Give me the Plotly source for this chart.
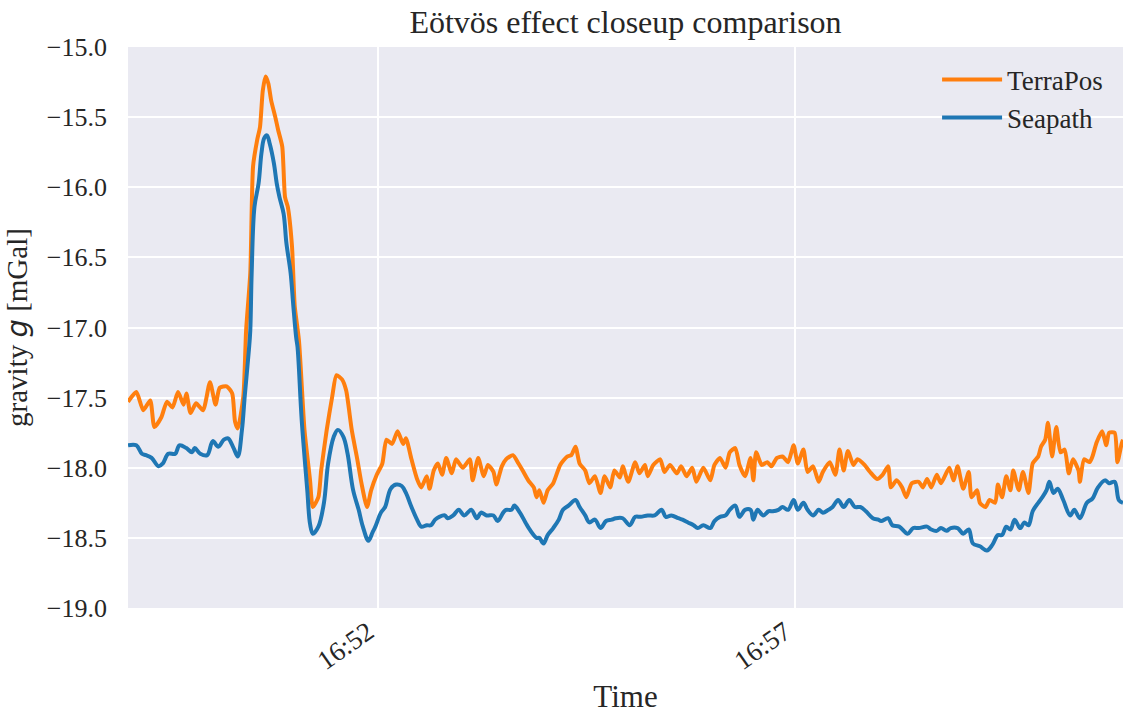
import pandas as pd
import plotly.graph_objects as go

start_time = "2000-01-01 16:49:00"
x_end_sec = 716

terrapos_sec = [0, 6, 11, 16, 19, 24, 28, 32, 36, 40, 42, 45, 49, 54, 59, 63, 66, 71, 75, 77, 79, 83, 85, 88, 90, 93, 95, 97, 99, 101, 103, 106, 108, 111, 113, 115, 118, 120, 123, 127, 131, 133, 137, 139, 143, 147, 150, 154, 157, 161, 165, 168, 172, 175, 179, 183, 186, 190, 194, 198, 200, 204, 208, 211, 215, 217, 220, 223, 226, 229, 233, 236, 241, 246, 248, 252, 256, 259, 263, 265, 269, 272, 277, 281, 284, 288, 292, 294, 296, 299, 302, 306, 311, 316, 319, 322, 325, 329, 332, 336, 340, 343, 347, 350, 354, 356, 360, 365, 368, 372, 374, 378, 383, 386, 390, 395, 398, 402, 406, 409, 414, 419, 422, 426, 430, 433, 437, 440, 444, 448, 450, 452, 456, 460, 463, 467, 471, 475, 479, 482, 486, 489, 493, 497, 500, 505, 509, 512, 515, 518, 522, 525, 530, 534, 539, 543, 547, 549, 553, 557, 560, 564, 569, 572, 575, 578, 582, 585, 591, 594, 597, 601, 605, 607, 611, 613, 617, 620, 624, 626, 629, 632, 635, 637, 641, 644, 648, 651, 655, 657, 660, 662, 665, 668, 671, 674, 677, 680, 684, 685, 688, 692, 694, 697, 701, 704, 706, 710, 712, 715, 716]
terrapos_val = [-17.53, -17.46, -17.59, -17.52, -17.71, -17.64, -17.53, -17.57, -17.46, -17.55, -17.47, -17.61, -17.54, -17.59, -17.39, -17.55, -17.43, -17.42, -17.47, -17.67, -17.72, -17.49, -17.02, -16.61, -15.85, -15.66, -15.57, -15.31, -15.21, -15.26, -15.38, -15.50, -15.59, -15.71, -16.07, -16.14, -16.42, -16.85, -17.09, -17.73, -18.09, -18.28, -18.21, -18.02, -17.73, -17.49, -17.34, -17.37, -17.45, -17.73, -17.94, -18.11, -18.28, -18.16, -18.05, -17.97, -17.80, -17.83, -17.74, -17.83, -17.79, -17.94, -18.08, -18.14, -18.06, -18.15, -18.02, -17.97, -18.05, -17.93, -18.04, -17.94, -18.00, -17.94, -18.09, -17.93, -18.06, -17.98, -18.03, -18.12, -17.99, -17.94, -17.91, -17.97, -18.02, -18.09, -18.14, -18.21, -18.16, -18.25, -18.16, -18.11, -17.98, -17.92, -17.91, -17.85, -17.97, -18.02, -18.11, -18.06, -18.18, -18.06, -18.14, -18.02, -18.07, -17.99, -18.10, -17.96, -18.04, -17.98, -18.06, -17.98, -17.94, -18.03, -17.98, -18.04, -17.99, -18.06, -18.00, -18.10, -18.00, -18.09, -17.98, -17.93, -18.00, -17.89, -17.86, -17.98, -18.06, -17.93, -18.09, -17.89, -17.98, -17.96, -17.99, -17.93, -17.92, -17.96, -17.84, -17.97, -17.87, -18.03, -17.99, -18.10, -18.03, -17.96, -18.05, -17.87, -18.02, -17.88, -17.98, -17.94, -17.98, -18.03, -18.08, -18.05, -17.99, -18.14, -18.09, -18.14, -18.21, -18.11, -18.10, -18.14, -18.08, -18.14, -18.05, -18.11, -18.00, -18.09, -17.99, -18.15, -18.03, -18.21, -18.16, -18.25, -18.28, -18.23, -18.25, -18.12, -18.21, -18.06, -18.16, -18.02, -18.16, -18.03, -18.18, -17.97, -17.92, -17.85, -17.80, -17.68, -17.92, -17.71, -17.89, -17.87, -18.04, -17.94, -18.02, -18.10, -17.94, -17.96, -17.92, -17.82, -17.74, -17.84, -17.75, -17.75, -17.96, -17.83, -17.80]

seapath_sec = [0, 6, 10, 13, 17, 22, 25, 29, 34, 37, 42, 46, 48, 52, 57, 61, 65, 69, 72, 76, 79, 82, 84, 87, 88, 89, 91, 94, 96, 98, 100, 102, 105, 107, 109, 112, 114, 117, 119, 121, 122, 125, 129, 131, 133, 137, 141, 144, 148, 151, 155, 158, 162, 166, 169, 173, 176, 178, 182, 185, 189, 193, 197, 200, 204, 208, 211, 215, 218, 221, 224, 228, 230, 234, 238, 242, 247, 251, 254, 258, 263, 266, 270, 272, 276, 278, 282, 286, 289, 294, 296, 299, 302, 306, 310, 313, 317, 322, 325, 329, 332, 336, 340, 344, 348, 351, 356, 361, 365, 369, 374, 379, 384, 387, 391, 396, 399, 403, 407, 410, 414, 419, 422, 426, 430, 433, 437, 440, 444, 448, 450, 453, 457, 461, 464, 468, 471, 475, 479, 482, 486, 489, 493, 497, 500, 504, 507, 511, 515, 519, 523, 527, 531, 536, 540, 542, 547, 550, 555, 561, 565, 569, 575, 578, 582, 585, 589, 592, 597, 601, 605, 608, 613, 618, 622, 626, 629, 632, 635, 638, 642, 645, 648, 651, 655, 658, 661, 663, 666, 669, 673, 678, 681, 685, 690, 694, 698, 703, 706, 710, 713, 716]
seapath_val = [-17.84, -17.84, -17.90, -17.91, -17.93, -17.99, -17.97, -17.90, -17.90, -17.84, -17.86, -17.89, -17.86, -17.90, -17.91, -17.81, -17.85, -17.80, -17.79, -17.86, -17.92, -17.73, -17.49, -17.16, -17.02, -16.61, -16.14, -15.97, -15.76, -15.65, -15.63, -15.69, -15.83, -15.97, -16.07, -16.19, -16.40, -16.61, -16.85, -17.07, -17.14, -17.66, -18.16, -18.40, -18.47, -18.42, -18.25, -17.97, -17.78, -17.73, -17.78, -17.90, -18.16, -18.30, -18.42, -18.52, -18.46, -18.42, -18.32, -18.28, -18.15, -18.12, -18.13, -18.18, -18.28, -18.37, -18.42, -18.41, -18.41, -18.37, -18.35, -18.34, -18.36, -18.34, -18.30, -18.34, -18.30, -18.36, -18.32, -18.34, -18.34, -18.38, -18.32, -18.30, -18.30, -18.27, -18.32, -18.39, -18.44, -18.50, -18.50, -18.54, -18.48, -18.43, -18.37, -18.30, -18.27, -18.23, -18.28, -18.34, -18.39, -18.37, -18.43, -18.38, -18.37, -18.36, -18.36, -18.41, -18.35, -18.35, -18.34, -18.34, -18.30, -18.35, -18.34, -18.36, -18.37, -18.39, -18.41, -18.43, -18.41, -18.43, -18.38, -18.35, -18.34, -18.30, -18.27, -18.35, -18.30, -18.30, -18.37, -18.30, -18.34, -18.31, -18.31, -18.30, -18.28, -18.30, -18.23, -18.30, -18.25, -18.30, -18.34, -18.30, -18.32, -18.30, -18.28, -18.23, -18.28, -18.23, -18.28, -18.28, -18.31, -18.36, -18.37, -18.38, -18.36, -18.41, -18.42, -18.47, -18.43, -18.43, -18.42, -18.44, -18.45, -18.43, -18.45, -18.43, -18.43, -18.47, -18.44, -18.54, -18.56, -18.59, -18.55, -18.48, -18.48, -18.42, -18.44, -18.37, -18.43, -18.39, -18.41, -18.31, -18.25, -18.21, -18.16, -18.10, -18.18, -18.15, -18.23, -18.34, -18.30, -18.36, -18.25, -18.22, -18.14, -18.09, -18.11, -18.10, -18.23, -18.25]

x_tick_times = ["2000-01-01 16:52:00", "2000-01-01 16:57:00"]
x_tick_labels = ["16:52", "16:57"]
y_ticks = [-19.0, -18.5, -18.0, -17.5, -17.0, -16.5, -16.0, -15.5, -15.0]

t0 = pd.Timestamp(start_time)
t_terrapos = t0 + pd.to_timedelta(terrapos_sec, unit="s")
t_seapath = t0 + pd.to_timedelta(seapath_sec, unit="s")
t_end = t0 + pd.to_timedelta(x_end_sec, unit="s")

FONT = "Liberation Serif, Times New Roman, serif"

fig = go.Figure()
fig.add_trace(go.Scatter(x=t_terrapos, y=terrapos_val, mode="lines", name="TerraPos",
                         line=dict(color="#ff7f0e", width=4, shape="spline", smoothing=0.6)))
fig.add_trace(go.Scatter(x=t_seapath, y=seapath_val, mode="lines", name="Seapath",
                         line=dict(color="#1f77b4", width=4, shape="spline", smoothing=1.0)))

fig.update_layout(
    width=1123, height=714,
    margin=dict(l=128, r=0, t=47, b=106),
    paper_bgcolor="white",
    plot_bgcolor="#eaeaf2",
    font=dict(family=FONT, size=26, color="#262626"),
    title=dict(text="Eötvös effect closeup comparison", x=0.5, xref="paper",
               y=0.97, yref="container", xanchor="center", yanchor="middle",
               font=dict(size=32, family=FONT, color="#262626")),
    legend=dict(x=0.985, y=0.985, xanchor="right", yanchor="top",
                bgcolor="rgba(0,0,0,0)", font=dict(size=27, family=FONT),
                itemwidth=60, tracegroupgap=4),
    showlegend=True,
)
fig.update_xaxes(
    range=[t0, t_end],
    tickvals=pd.to_datetime(x_tick_times), ticktext=x_tick_labels,
    tickangle=-35, showgrid=True, gridcolor="white", gridwidth=2,
    zeroline=False, showline=False, ticks="",
    tickfont=dict(size=27, family=FONT), ticklabelstandoff=2, ticklabelshift=-10,
    title=dict(text="Time", font=dict(size=31, family=FONT), standoff=14),
)
fig.update_yaxes(
    range=[-19.0, -15.0],
    tickvals=y_ticks, tickformat=".1f",
    showgrid=True, gridcolor="white", gridwidth=2,
    zeroline=False, showline=False, ticks="",
    tickfont=dict(size=26, family=FONT), ticklabelstandoff=20,
    title=dict(text="gravity <span style=\"font-family:DejaVu Sans\"><i>g</i></span> [mGal]",
               font=dict(size=29, family=FONT), standoff=10),
)

fig.write_html("out.html")
